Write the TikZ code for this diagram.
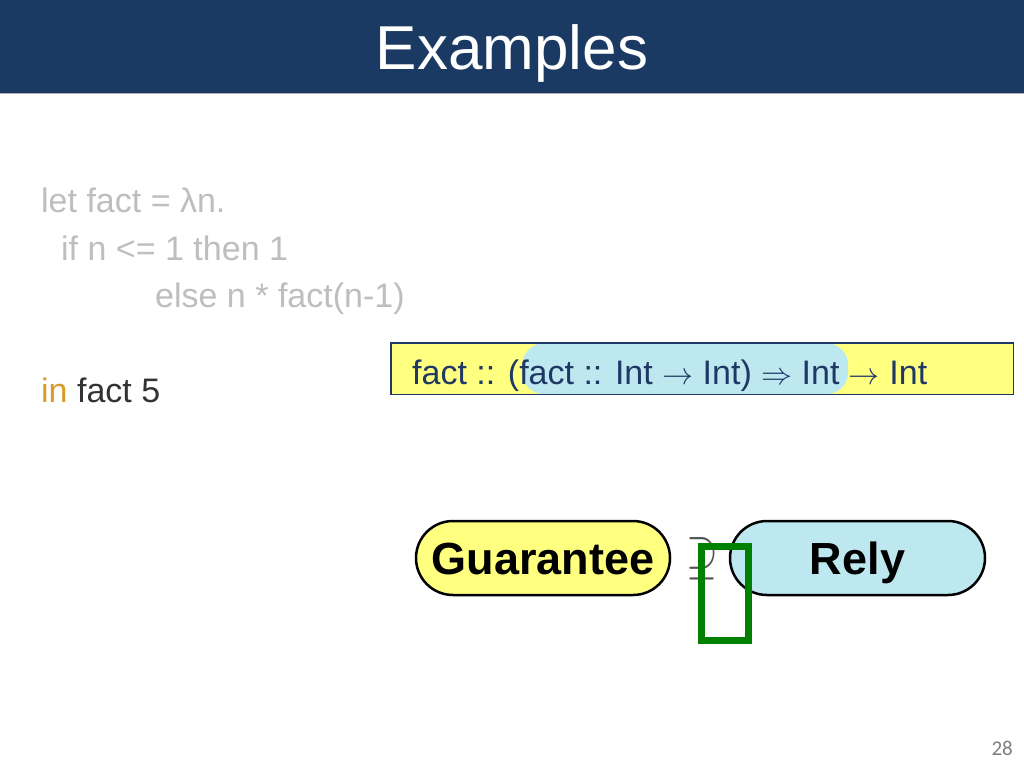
\documentclass[tikz,border=0pt]{standalone}
\usepackage{fontspec}
\setmainfont{Liberation Sans}
\newfontfamily\pagefont{Carlito}
\definecolor{titlebar}{RGB}{26,58,99}
\definecolor{codegray}{RGB}{190,190,190}
\definecolor{kworange}{RGB}{216,155,42}
\definecolor{darktext}{RGB}{51,51,51}
\definecolor{boxyellow}{RGB}{255,255,128}
\definecolor{boxblue}{RGB}{190,232,240}
\definecolor{typeblue}{RGB}{31,56,100}
\definecolor{symgray}{RGB}{85,85,85}
\definecolor{tofugreen}{RGB}{0,128,0}
\newcommand\tarr{\scalebox{3.1}{\normalsize$\to$}}
\newcommand\tRarr{\scalebox{3.1}{\normalsize$\Rightarrow$}}
\tikzset{
  code/.style={anchor=base west, inner sep=0pt, font=\fontsize{34}{40}\selectfont},
  pill/.style={draw=black, line width=2.5pt, rounded corners=37pt, minimum height=74pt,
    inner sep=0pt, text height=32pt, text depth=0pt, font=\fontsize{45}{50}\selectfont\bfseries},
}
\begin{document}
\begin{tikzpicture}[x=1pt,y=-1pt]
\useasboundingbox (0,0) rectangle (1024,768);
\fill[white] (0,0) rectangle (1024,768);
% title bar
\node[fill=titlebar, minimum width=1024pt, minimum height=93pt, anchor=north west, inner sep=0pt] (bar) at (0,0) {};
\draw[gray!60, line width=1pt] (bar.south west) -- (bar.south east);
\node[anchor=base, inner sep=0pt, text=white, font=\fontsize{62}{70}\selectfont] (title) at (512,70) {Examples};
% code
\node[code, text=codegray] (l1) at (41,212) {let fact = λn.};
\node[code, text=codegray] (l2) at (61,260) {if n <= 1 then 1};
\node[code, text=codegray] (l3) at (155,307) {else n * fact(n-1)};
\node[code] (l4) at (41,402) {\textcolor{kworange}{in} \textcolor{darktext}{fact 5}};
% type box
\node[fill=boxyellow, minimum width=622pt, minimum height=51pt, anchor=north west, inner sep=0pt] (tb) at (391,343) {};
\node[fill=boxblue, rounded corners=22pt, minimum width=326pt, minimum height=51pt, anchor=north west, inner sep=0pt] (hl) at (522,343) {};
\draw[typeblue, line width=1.3pt] (tb.north west) rectangle (tb.south east);
\node[code, text=typeblue] (tt) at (412,384) {fact :: (fact :: Int \tarr{} Int) \tRarr{} Int \tarr{} Int};
% guarantee / rely
\node[pill, fill=boxyellow, minimum width=254pt] (g) at (543,558) {Guarantee};
\node[pill, fill=boxblue, minimum width=255pt] (r) at (857.5,558) {Rely};
\node[text=symgray, inner sep=0pt] (sup) at (702,559) {\scalebox{4.1}[5.5]{\normalsize$\supseteq$}};
\node[draw=tofugreen, line width=7pt, minimum width=47pt, minimum height=94pt, inner sep=0pt, anchor=north west] (tofu) at (698,543) {};
% page number
\node[anchor=base east, inner sep=0pt, text=gray, font=\pagefont\fontsize{21}{24}\selectfont] (pg) at (1013,755) {28};
\end{tikzpicture}
\end{document}
